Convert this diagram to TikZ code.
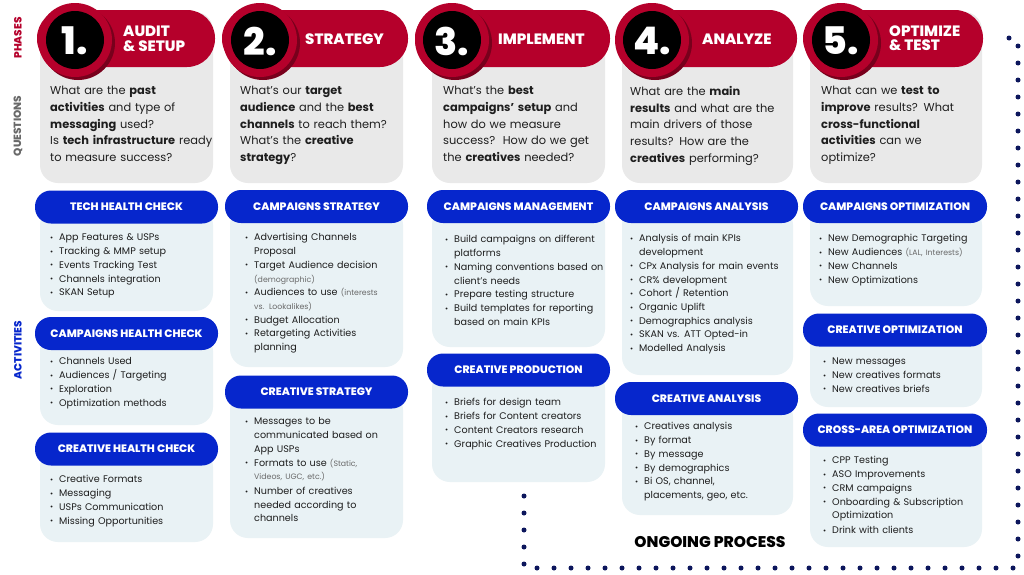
\documentclass[tikz,border=0pt]{standalone}
\usepackage{fontspec}
\setmainfont{Poppins}
\IfFontExistsTF{Poppins ExtraBold}{\newfontfamily\heavyfont{Poppins ExtraBold}}{\newcommand{\heavyfont}{\bfseries}}
\definecolor{phasered}{RGB}{181,0,43}
\definecolor{shadowred}{RGB}{120,0,28}
\definecolor{qgray}{RGB}{233,233,233}
\definecolor{actblue}{RGB}{6,38,204}
\definecolor{actbox}{RGB}{233,242,245}
\definecolor{dotnavy}{RGB}{12,22,92}
\definecolor{txt}{RGB}{30,30,30}
\definecolor{notegray}{RGB}{105,105,105}
\newcommand{\itmstrut}{\rule[-4.2pt]{0pt}{13.7pt}}
\newcommand{\itm}[1]{\par\lineskip=0pt\lineskiplimit=0pt\noindent\makebox[9pt][l]{\raisebox{0.4pt}{\fontsize{7.5}{7}\selectfont\textbullet}}\parbox[t]{160pt}{\raggedright\itmstrut #1\itmstrut}}
\newcommand{\smallnote}[1]{{\fontsize{7.8}{10}\selectfont\color{notegray}#1}}
\tikzset{
  qbox/.style={fill=qgray, rounded corners=18pt},
  phasepill/.style={fill=phasered, rounded corners=28pt},
  numtext/.style={text=white, font=\fontsize{38}{38}\selectfont\heavyfont},
  phasetitle/.style={anchor=west, inner sep=0pt, text=white, align=left, font=\fontsize{15}{14.5}\selectfont\heavyfont},
  question/.style={anchor=north west, inner sep=0pt, text=txt, align=left, text width=190pt, font=\fontsize{11.4}{16.7}\selectfont},
  hdr/.style={fill=actblue, rounded corners=16pt, minimum width=183pt, minimum height=33pt, text=white, font=\fontsize{10.8}{10}\selectfont\heavyfont},
  actbg/.style={fill=actbox, rounded corners=18pt},
  bullets/.style={anchor=north west, inner sep=0pt, text=txt, align=left, text width=175pt, font=\fontsize{9.6}{13.7}\selectfont},
  sidelabel/.style={rotate=90, font=\fontsize{10.5}{10}\selectfont\heavyfont},
  dotline/.style={dotnavy, line width=5pt, line cap=round, dash pattern=on 0pt off 17pt}
}
\begin{document}
\begin{tikzpicture}[x=1pt,y=-1pt]
  \fill[white] (0,0) rectangle (1024,574);
  \useasboundingbox (0,0) rectangle (1024,574);

  % side labels
  \node[sidelabel, text=phasered] (lphases) at (18,38) {PHASES};
  \node[sidelabel, text=notegray] (lquestions) at (18,126) {QUESTIONS};
  \node[sidelabel, text=actblue] (lactivities) at (18,350) {ACTIVITIES};

  % phase 1
  \fill[qbox] (40,12) rectangle (213,183);
  \fill[phasepill] (37,10) rectangle (215,67);
  \fill[shadowred] (78,43) circle (37pt);
  \fill[phasered] (75,40) circle (37pt);
  \fill[black] (75,40) circle (29pt);
  \node[numtext] (n1) at (75,41) {1.};
  \node[phasetitle] (t1) at (123,39) {AUDIT\\\& SETUP};
  \node[question] (q1) at (50,86) {What are the \textbf{past}\\\textbf{activities} and type of\\\textbf{messaging} used?\\Is \textbf{tech infrastructure} ready\\to measure success?};

  % phase 2
  \fill[qbox] (230,12) rectangle (403,183);
  \fill[phasepill] (222,10) rectangle (408,67);
  \fill[shadowred] (263,43) circle (37pt);
  \fill[phasered] (260,40) circle (37pt);
  \fill[black] (260,40) circle (29pt);
  \node[numtext] (n2) at (260,41) {2.};
  \node[phasetitle] (t2) at (305,39) {STRATEGY};
  \node[question] (q2) at (240,86) {What’s our \textbf{target}\\\textbf{audience} and the \textbf{best}\\\textbf{channels} to reach them?\\What’s the \textbf{creative}\\\textbf{strategy}?};

  % phase 3
  \fill[qbox] (432,12) rectangle (605,183);
  \fill[phasepill] (415,10) rectangle (610,67);
  \fill[shadowred] (455,43) circle (37pt);
  \fill[phasered] (452,40) circle (37pt);
  \fill[black] (452,40) circle (29pt);
  \node[numtext] (n3) at (452,41) {3.};
  \node[phasetitle] (t3) at (498,39) {IMPLEMENT};
  \node[question] (q3) at (443,86) {What’s the \textbf{best}\\\textbf{campaigns’ setup} and\\how do we measure\\success?\ \ How do we get\\the \textbf{creatives} needed?};

  % phase 4
  \fill[qbox] (622,12) rectangle (793,183);
  \fill[phasepill] (617,10) rectangle (797,67);
  \fill[shadowred] (655,43) circle (37pt);
  \fill[phasered] (652,40) circle (37pt);
  \fill[black] (652,40) circle (29pt);
  \node[numtext] (n4) at (652,41) {4.};
  \node[phasetitle] (t4) at (702,39) {ANALYZE};
  \node[question] (q4) at (630,86) {What are the \textbf{main}\\\textbf{results} and what are the\\main drivers of those\\results? How are the\\\textbf{creatives} performing?};

  % phase 5
  \fill[qbox] (810,12) rectangle (982,183);
  \fill[phasepill] (803,10) rectangle (983,67);
  \fill[shadowred] (844,43) circle (37pt);
  \fill[phasered] (841,40) circle (37pt);
  \fill[black] (841,40) circle (29pt);
  \node[numtext] (n5) at (841,41) {5.};
  \node[phasetitle] (t5) at (889,38) {OPTIMIZE\\\& TEST};
  \node[question] (q5) at (821,86) {What can we \textbf{test to}\\\textbf{improve} results? What\\\textbf{cross-functional}\\\textbf{activities} can we\\optimize?};

  % activities, column 1
  \fill[actbg] (40,207) rectangle (213,311);
  \node[hdr] (h11) at (126.5,207) {TECH HEALTH CHECK};
  \node[bullets] (b11) at (50,227) {\itm{App Features \& USPs}\itm{Tracking \& MMP setup}\itm{Events Tracking Test}\itm{Channels integration}\itm{SKAN Setup}};
  \fill[actbg] (40,333) rectangle (213,425);
  \node[hdr] (h12) at (126.5,333.5) {CAMPAIGNS HEALTH CHECK};
  \node[bullets] (b12) at (50,351) {\itm{Channels Used}\itm{Audiences / Targeting}\itm{Exploration}\itm{Optimization methods}};
  \fill[actbg] (40,449) rectangle (213,542);
  \node[hdr] (h13) at (126.5,449) {CREATIVE HEALTH CHECK};
  \node[bullets] (b13) at (50,469) {\itm{Creative Formats}\itm{Messaging}\itm{USPs Communication}\itm{Missing Opportunities}};

  % activities, column 2
  \fill[actbg] (230,207) rectangle (403,367);
  \node[hdr] (h21) at (316.5,206.5) {CAMPAIGNS STRATEGY};
  \node[bullets] (b21) at (245,227) {\itm{Advertising Channels\newline Proposal}\itm{Target Audience decision\newline\smallnote{(demographic)}}\itm{Audiences to use \smallnote{(interests}\newline\smallnote{vs. Lookalikes)}}\itm{Budget Allocation}\itm{Retargeting Activities\newline planning}};
  \fill[actbg] (230,392) rectangle (403,538);
  \node[hdr] (h22) at (316.5,392) {CREATIVE STRATEGY};
  \node[bullets] (b22) at (245,411) {\itm{Messages to be\newline communicated based on\newline App USPs}\itm{Formats to use \smallnote{(Static,}\newline\smallnote{Videos, UGC, etc.)}}\itm{Number of creatives\newline needed according to\newline channels}};

  % activities, column 3
  \fill[actbg] (432,207) rectangle (605,347);
  \node[hdr] (h31) at (518.5,206.5) {CAMPAIGNS MANAGEMENT};
  \node[bullets] (b31) at (445,229) {\itm{Build campaigns on different\newline platforms}\itm{Naming conventions based on\newline client’s needs}\itm{Prepare testing structure}\itm{Build templates for reporting\newline based on main KPIs}};
  \fill[actbg] (432,370) rectangle (605,482);
  \node[hdr] (h32) at (518.5,370) {CREATIVE PRODUCTION};
  \node[bullets] (b32) at (445,392) {\itm{Briefs for design team}\itm{Briefs for Content creators}\itm{Content Creators research}\itm{Graphic Creatives Production}};

  % activities, column 4
  \fill[actbg] (622,207) rectangle (793,375);
  \node[hdr] (h41) at (706.5,206.5) {CAMPAIGNS ANALYSIS};
  \node[bullets] (b41) at (630,228) {\itm{Analysis of main KPIs\newline development}\itm{CPx Analysis for main events}\itm{CR\% development}\itm{Cohort / Retention}\itm{Organic Uplift}\itm{Demographics analysis}\itm{SKAN vs. ATT Opted-in}\itm{Modelled Analysis}};
  \fill[actbg] (622,399) rectangle (793,515);
  \node[hdr] (h42) at (706.5,398.5) {CREATIVE ANALYSIS};
  \node[bullets] (b42) at (635,416) {\itm{Creatives analysis}\itm{By format}\itm{By message}\itm{By demographics}\itm{Bi OS, channel,\newline placements, geo, etc.}};

  % activities, column 5
  \fill[actbg] (810,207) rectangle (982,306);
  \node[hdr, minimum width=184pt] (h51) at (895,206.5) {CAMPAIGNS OPTIMIZATION};
  \node[bullets] (b51) at (819,228) {\itm{New Demographic Targeting}\itm{New Audiences \smallnote{(LAL, Interests)}}\itm{New Channels}\itm{New Optimizations}};
  \fill[actbg] (810,330) rectangle (982,407);
  \node[hdr, minimum width=184pt] (h52) at (895,330) {CREATIVE OPTIMIZATION};
  \node[bullets] (b52) at (823,351) {\itm{New messages}\itm{New creatives formats}\itm{New creatives briefs}};
  \fill[actbg] (810,430) rectangle (982,547);
  \node[hdr, minimum width=184pt] (h53) at (895,430) {CROSS-AREA OPTIMIZATION};
  \node[bullets] (b53) at (823,450) {\itm{CPP Testing}\itm{ASO Improvements}\itm{CRM campaigns}\itm{Onboarding \& Subscription\newline Optimization}\itm{Drink with clients}};

  % ongoing process
  \node[font=\fontsize{15.5}{15}\selectfont\heavyfont] (ongoing) at (710,542) {ONGOING PROCESS};
  \coordinate (dA) at (524,496);
  \coordinate (dB) at (524,568);
  \coordinate (dC) at (1018,568);
  \coordinate (dD) at (1018,38);
  \coordinate (dE) at (998,38);
  \draw[dotline] (dA) -- (dB) -- (dC) -- (dD) -- (dE);
\end{tikzpicture}
\end{document}
